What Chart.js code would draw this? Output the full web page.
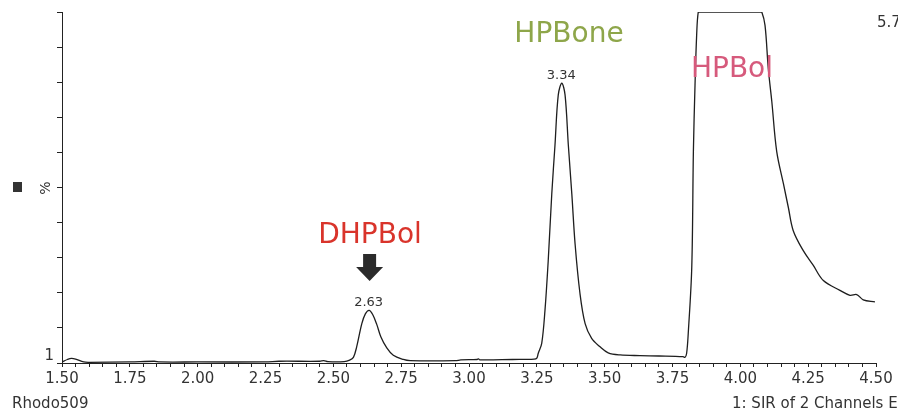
<!DOCTYPE html>
<html>
<head>
<meta charset="utf-8">
<script src="https://cdn.jsdelivr.net/npm/chart.js@4.4.1/dist/chart.umd.min.js"></script>
<style>
  html, body { margin: 0; padding: 0; background: #fff; }
  #wrap { width: 898px; height: 412px; position: relative; }
</style>
</head>
<body>
<div id="wrap"><canvas id="chromChart" width="898" height="412"></canvas></div>
<script>
// retention time (min)
const times = [
  1.50, 1.52, 1.535, 1.55, 1.58, 1.60, 1.75, 1.84, 1.86, 2.00, 2.25, 2.30, 2.45, 2.465, 2.48, 2.54,
  2.56, 2.574, 2.586, 2.605, 2.618, 2.632, 2.645, 2.660, 2.675, 2.697, 2.721, 2.758, 2.783,
  2.95, 2.97, 3.03, 3.035, 3.04, 3.16, 3.24,
  3.25, 3.255, 3.268, 3.280, 3.292, 3.305, 3.317, 3.329, 3.342, 3.354, 3.366, 3.379, 3.391,
  3.409, 3.428, 3.452, 3.483, 3.513, 3.557, 3.63, 3.70, 3.789,
  3.796, 3.802, 3.808, 3.821, 3.827, 3.833, 3.839, 3.845, 3.852, 4.072, 4.079, 4.091, 4.103, 4.116, 4.134,
  4.159, 4.177, 4.195, 4.232, 4.269, 4.306, 4.367, 4.404, 4.429, 4.453, 4.496
];
// relative intensity (%)
const intensity = [
  0.3, 1.0, 1.3, 1.1, 0.3, 0.2, 0.3, 0.5, 0.3, 0.3, 0.3, 0.5, 0.5, 0.7, 0.4, 0.4,
  0.8, 1.6, 4.6, 11.2, 14.0, 15.0, 13.8, 11.0, 7.5, 4.3, 2.2, 1.0, 0.65,
  0.65, 0.9, 1.0, 1.2, 0.9, 1.0, 1.1,
  1.4, 2.7, 5.6, 15.0, 29.2, 48.1, 62.2, 76.4, 79.7, 76.4, 62.2, 48.1, 33.9,
  19.8, 11.2, 7.0, 4.6, 2.9, 2.3, 2.1, 2.0, 1.8,
  1.6, 2.7, 8.4, 27.3, 60.3, 79.2, 93.4, 100, 100, 100, 100, 96.2, 83.9, 74.5, 60.3,
  51.0, 44.3, 37.7, 32.0, 27.8, 23.5, 20.7, 19.3, 19.5, 18.0, 17.4
];

const peakTimes = [2.63, 3.34];
const peakLabels = ['2.63', '3.34'];
const compoundNames = ['DHPBol', 'HPBone', 'HPBol'];
const xTickLabels = ['1.50', '1.75', '2.00', '2.25', '2.50', '2.75', '3.00', '3.25', '3.50', '3.75', '4.00', '4.25', '4.50'];

const FONT = "'DejaVu Sans', sans-serif";

// texts, arrow and marker drawn over the chart
const overlay = {
  id: 'overlay',
  afterDraw(chart) {
    const ctx = chart.ctx;
    const xs = chart.scales.x;
    const ys = chart.scales.y;
    ctx.save();
    ctx.fillStyle = '#333';

    // peak apex labels
    ctx.font = '13px ' + FONT;
    ctx.textAlign = 'center';
    ctx.textBaseline = 'alphabetic';
    peakTimes.forEach((t, i) => {
      let best = 0;
      times.forEach((tt, j) => { if (Math.abs(tt - t) < 0.02) best = Math.max(best, intensity[j]); });
      ctx.fillText(peakLabels[i], xs.getPixelForValue(t), ys.getPixelForValue(best) - 4);
    });

    // compound names
    ctx.font = '28px ' + FONT;
    ctx.fillStyle = '#d9342b';
    ctx.fillText(compoundNames[0], 370, 243);
    ctx.fillStyle = '#8ea64a';
    ctx.fillText(compoundNames[1], 569, 42);
    ctx.fillStyle = '#d65a7c';
    ctx.fillText(compoundNames[2], 732, 77);

    // arrow pointing to DHPBol
    const ax = xs.getPixelForValue(peakTimes[0]) + 1;
    ctx.fillStyle = '#2b2b2b';
    ctx.beginPath();
    ctx.moveTo(ax - 6.5, 254);
    ctx.lineTo(ax + 6.5, 254);
    ctx.lineTo(ax + 6.5, 267);
    ctx.lineTo(ax + 13.5, 267);
    ctx.lineTo(ax, 281);
    ctx.lineTo(ax - 13.5, 267);
    ctx.lineTo(ax - 6.5, 267);
    ctx.closePath();
    ctx.fill();

    // axis decorations
    ctx.fillStyle = '#333';
    ctx.fillRect(13, 182, 9, 10);
    ctx.font = '14px ' + FONT;
    ctx.save();
    ctx.translate(50, 188);
    ctx.rotate(-Math.PI / 2);
    ctx.textAlign = 'center';
    ctx.fillText('%', 0, 0);
    ctx.restore();

    ctx.font = '15px ' + FONT;
    ctx.textAlign = 'left';
    ctx.fillText('5.7', 877, 27);
    ctx.fillText('Rhodo509', 12, 408);
    ctx.fillText('1: SIR of 2 Channels E', 732, 408);
    ctx.restore();
  }
};

const ctx = document.getElementById('chromChart').getContext('2d');
new Chart(ctx, {
  type: 'line',
  data: {
    datasets: [{
      data: times.map((t, i) => ({ x: t, y: intensity[i] })),
      borderColor: '#1e1e1e',
      borderWidth: 1.3,
      pointRadius: 0,
      fill: false,
      tension: 0.35
    }]
  },
  options: {
    responsive: false,
    animation: false,
    events: [],
    layout: { padding: { top: 10, right: 22, left: 0, bottom: 0 } },
    plugins: {
      legend: { display: false },
      tooltip: { enabled: false }
    },
    scales: {
      x: {
        type: 'linear',
        min: 1.5,
        max: 4.5,
        afterFit: s => { s.height = 49; s.paddingLeft = 0; s.paddingRight = 0; },
        border: { color: '#222', width: 1 },
        grid: { drawOnChartArea: false, tickLength: 4, color: '#222' },
        ticks: {
          stepSize: 0.05,
          autoSkip: false,
          maxRotation: 0,
          padding: 3,
          color: '#333',
          font: { family: FONT, size: 15 },
          callback: v => {
            const lbl = Number(v).toFixed(2);
            return xTickLabels.includes(lbl) ? lbl : '';
          }
        }
      },
      y: {
        min: 0,
        max: 100,
        afterFit: s => { s.width = 62; },
        border: { color: '#222', width: 1 },
        grid: { drawOnChartArea: false, tickLength: 5, color: '#222' },
        ticks: {
          stepSize: 10,
          padding: 3,
          labelOffset: -7,
          color: '#333',
          font: { family: FONT, size: 15 },
          callback: v => (v === 0 ? '1' : '')
        }
      }
    }
  },
  plugins: [overlay]
});
</script>
</body>
</html>
